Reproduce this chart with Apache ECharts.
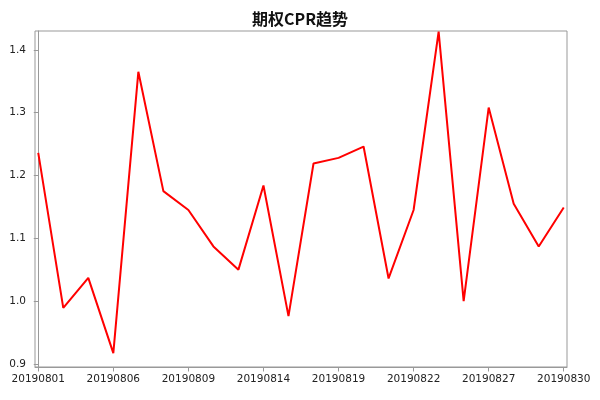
<!DOCTYPE html>
<html>
<head>
<meta charset="utf-8">
<script src="https://cdn.jsdelivr.net/npm/echarts@6/dist/echarts.min.js"></script>
<style>html,body{margin:0;padding:0;background:#fff;}#c{width:600px;height:400px;}</style>
</head>
<body>
<div id="c"></div>
<script>
const dates = ["20190801","20190802","20190805","20190806","20190807","20190808","20190809","20190812","20190813","20190814","20190815","20190816","20190819","20190820","20190821","20190822","20190823","20190826","20190827","20190828","20190829","20190830"];
const cpr = [1.236,0.989,1.037,0.917,1.365,1.175,1.145,1.087,1.05,1.184,0.976,1.219,1.228,1.246,1.036,1.145,1.429,1.0,1.308,1.155,1.087,1.149];
const xTickIdx = [0,3,6,9,12,15,18,21];
const yTicks = [0.9,1.0,1.1,1.2,1.3,1.4];

const chart = echarts.init(document.getElementById('c'));
const axisColor = '#999';
chart.setOption({
  animation: false,
  backgroundColor: '#fff',
  title: {
    text: '期权CPR趋势', left: 'center', top: 6,
    textStyle: {fontFamily: 'Noto Sans CJK SC', fontSize: 16, fontWeight: 'bold', color: '#111'}
  },
  grid: {left: 35, right: 33, top: 31, bottom: 33, show: true, borderColor: axisColor, borderWidth: 1},
  xAxis: {
    type: 'value', min: -0.13, max: 21.13,
    axisLine: {show: true, lineStyle: {color: axisColor}},
    axisTick: {show: true, length: 4.5, customValues: xTickIdx, lineStyle: {color: axisColor}},
    axisLabel: {customValues: xTickIdx, margin: 7, color: '#222', fontFamily: 'DejaVu Sans', fontSize: 10.5,
      formatter: v => dates[Math.round(v)]},
    splitLine: {show: false}
  },
  yAxis: {
    type: 'value', min: 0.895, max: 1.43,
    axisLine: {show: true, lineStyle: {color: axisColor}},
    axisTick: {show: true, length: 4.5, customValues: yTicks, lineStyle: {color: axisColor}},
    axisLabel: {customValues: yTicks, margin: 9, color: '#222', fontFamily: 'DejaVu Sans', fontSize: 10.5,
      formatter: v => v.toFixed(1)},
    splitLine: {show: false}
  },
  series: [{
    type: 'line',
    data: cpr.map((v, i) => [i, v]),
    showSymbol: false,
    lineStyle: {color: '#ff0000', width: 2},
    clip: false
  }]
});
</script>
</body>
</html>
